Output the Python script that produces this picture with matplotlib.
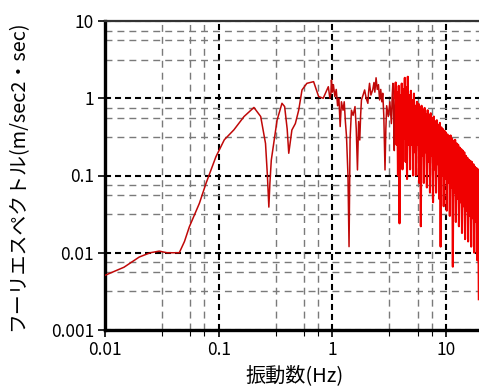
import numpy as np
import matplotlib
matplotlib.use("Agg")
import matplotlib.pyplot as plt
from matplotlib.ticker import FixedLocator, NullFormatter

plt.rcParams['font.family'] = ['Noto Sans CJK JP', 'DejaVu Sans']

# values (Hz, m/sec2*sec)
freq_low = [0.010, 0.0147, 0.020, 0.025, 0.030, 0.035, 0.045, 0.050, 0.0552,
            0.0676, 0.0773, 0.0945, 0.112, 0.136, 0.167, 0.204, 0.234, 0.258,
            0.268, 0.276, 0.282, 0.290, 0.326, 0.360, 0.380, 0.400, 0.413,
            0.440, 0.472, 0.505, 0.540, 0.596, 0.683, 0.757, 0.830, 0.920,
            0.950, 0.970]
amp_low = [0.0051, 0.0065, 0.0088, 0.0100, 0.0105, 0.0100, 0.0100, 0.0140, 0.0217,
           0.0436, 0.079, 0.175, 0.29, 0.39, 0.58, 0.76, 0.58, 0.26,
           0.10, 0.039, 0.08, 0.158, 0.52, 0.86, 0.78, 0.40, 0.194,
           0.388, 0.47, 0.70, 1.28, 1.56, 1.64, 1.05, 1.00, 1.41,
           1.00, 1.16]

freq_mid = [0.98, 1.00, 1.02, 1.05, 1.08, 1.11, 1.14, 1.17, 1.20, 1.24, 1.27,
            1.30, 1.33, 1.37, 1.40, 1.43, 1.47, 1.52, 1.58, 1.62, 1.66, 1.70,
            1.74, 1.77, 1.80, 1.86, 1.92, 1.98, 2.05, 2.08, 2.12, 2.18, 2.26,
            2.32, 2.36, 2.42, 2.48, 2.54, 2.60, 2.66, 2.72, 2.77, 2.83, 2.90,
            2.95, 3.00, 3.10, 3.20, 3.30, 3.35, 3.40, 3.45, 3.50, 3.55]
amp_mid = [1.72, 1.20, 1.50, 1.05, 1.30, 0.80, 1.00, 0.43, 0.90, 0.70, 0.90,
           0.50, 0.32, 0.10, 0.012, 0.30, 0.70, 0.60, 0.78, 0.40, 0.118, 0.50,
           0.288, 0.60, 0.95, 1.10, 1.28, 1.00, 0.86, 1.20, 1.56, 1.10, 1.28,
           1.60, 1.20, 1.84, 1.30, 1.50, 0.95, 1.30, 0.90, 1.16, 0.60, 0.118,
           0.40, 0.80, 0.58, 0.90, 0.47, 1.00, 1.56, 0.60, 0.21, 1.00]

freq_high = [3.55, 3.60, 3.66, 3.71, 3.77, 3.83, 3.89, 3.95, 4.01, 4.07, 4.13, 4.20,
             4.26, 4.33, 4.40, 4.46, 4.53, 4.60, 4.68, 4.75, 4.82, 4.90, 4.97,
             5.05, 5.13, 5.21, 5.29, 5.37, 5.46, 5.54, 5.63, 5.71, 5.80, 5.89,
             5.99, 6.08, 6.17, 6.27, 6.37, 6.47, 6.57, 6.67, 6.77, 6.88, 6.99,
             7.10, 7.21, 7.32, 7.43, 7.55, 7.67, 7.79, 7.91, 8.03, 8.15, 8.28,
             8.41, 8.54, 8.67, 8.81, 8.94, 9.08, 9.23, 9.37, 9.52, 9.66, 9.81,
             9.97, 10.12, 10.28, 10.44, 10.60, 10.77, 10.94, 11.11, 11.28, 11.45,
             11.63, 11.81, 12.00, 12.18, 12.37, 12.57, 12.76, 12.96, 13.16, 13.37,
             13.58, 13.79, 14.00, 14.22, 14.44, 14.67, 14.90, 15.13, 15.36, 15.60,
             15.85, 16.09, 16.34, 16.60, 16.86, 17.12, 17.38, 17.66, 17.93, 18.21,
             18.49, 18.78, 19.07, 19.37]
amp_high = [1.00, 1.60, 0.25, 1.20, 0.10, 1.45, 0.024, 1.10, 0.20, 1.55, 0.12, 1.30,
            0.30, 1.84, 0.15, 1.40, 0.09, 1.90, 0.25, 1.10, 0.12, 1.25, 0.25,
            0.95, 0.10, 1.15, 0.20, 0.80, 0.10, 0.90, 0.25, 0.85, 0.08, 0.75,
            0.022, 0.80, 0.18, 0.70, 0.08, 0.75, 0.20, 0.62, 0.07, 0.70, 0.15,
            0.60, 0.06, 0.64, 0.18, 0.55, 0.045, 0.58, 0.12, 0.50, 0.06, 0.52,
            0.14, 0.45, 0.05, 0.48, 0.012, 0.42, 0.10, 0.40, 0.04, 0.38, 0.09,
            0.36, 0.035, 0.34, 0.08, 0.32, 0.03, 0.33, 0.07, 0.30, 0.0066,
            0.28, 0.06, 0.29, 0.025, 0.26, 0.05, 0.25, 0.022, 0.23, 0.045,
            0.22, 0.018, 0.21, 0.04, 0.20, 0.015, 0.18, 0.035, 0.17, 0.014,
            0.16, 0.03, 0.155, 0.012, 0.15, 0.028, 0.14, 0.010, 0.13, 0.025,
            0.125, 0.008, 0.12, 0.0025]

freq = freq_low + freq_mid
amp = amp_low + amp_mid

x_ticks = [0.01, 0.1, 1, 10]
x_labels = ["0.01", "0.1", "1", "10"]
y_ticks = [0.001, 0.01, 0.1, 1, 10]
y_labels = ["0.001", "0.01", "0.1", "1", "10"]


def minor_positions(lo, hi):
    # extra grid lines at 1/2, 3/4 and 7/8 of each decade
    out = []
    for e in range(lo, hi):
        for m in (0.5, 0.75, 0.875):
            out.append(10 ** (e + m))
    return out


fig = plt.figure(figsize=(4.79, 3.87), dpi=100)
ax = fig.add_axes([105 / 479, 57 / 387, 374 / 479, 309 / 387])

ax.plot(freq, amp, color="#c00808", lw=1.1, zorder=3)
ax.plot(freq_high, amp_high, color="#f00000", lw=1.5, zorder=3)

ax.set_xscale("log")
ax.set_yscale("log")
ax.set_xlim(0.01, 10 ** 1.289)
ax.set_ylim(0.001, 10)

ax.xaxis.set_major_locator(FixedLocator(x_ticks))
ax.yaxis.set_major_locator(FixedLocator(y_ticks))
ax.set_xticklabels(x_labels)
ax.set_yticklabels(y_labels)
ax.xaxis.set_minor_locator(FixedLocator(minor_positions(-2, 2)))
ax.yaxis.set_minor_locator(FixedLocator(minor_positions(-3, 1)))
ax.xaxis.set_minor_formatter(NullFormatter())
ax.yaxis.set_minor_formatter(NullFormatter())

ax.grid(True, which="major", color="black", lw=1.5, linestyle=(0, (2.9, 1.9)))
ax.grid(True, which="minor", color="#7a7a7a", lw=1.0, linestyle=(0, (5, 3.6)))

ax.tick_params(axis="both", which="major", direction="out", length=5, width=1.2,
               labelsize=12.5, pad=3)
ax.tick_params(axis="x", which="minor", direction="out", length=4, width=0.8)
ax.tick_params(axis="y", which="minor", length=0)

for side in ("left", "bottom"):
    ax.spines[side].set_linewidth(2.4)
ax.spines["top"].set_linewidth(1.6)
ax.spines["top"].set_color("#333333")
ax.spines["right"].set_visible(False)

fig.text(18 / 479, 1 - 176 / 387, "フーリエスペクトル(m/sec2・sec)", rotation=90,
         ha="center", va="center", fontsize=14.3)
fig.text(295 / 479, 1 - 376 / 387, "振動数(Hz)", ha="center", va="center",
         fontsize=14.5)

fig.savefig("out.png", dpi=100)
